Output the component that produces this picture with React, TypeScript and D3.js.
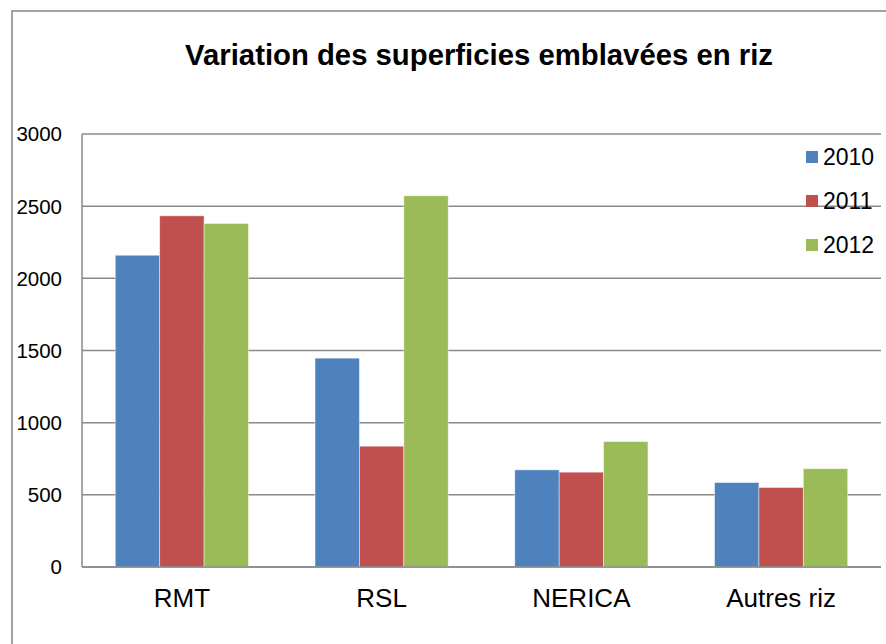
import * as d3 from "d3";

const categories = ["RMT", "RSL", "NERICA", "Autres riz"];
const seriesNames = ["2010", "2011", "2012"];
const values2010 = [2160, 1447, 673, 585];
const values2011 = [2433, 837, 657, 551];
const values2012 = [2380, 2572, 869, 681];
const yTicks = [0, 500, 1000, 1500, 2000, 2500, 3000];
const seriesColors = ["#4F81BD", "#C0504D", "#9BBB59"];

const W = 886;
const H = 644;
const FONT = "'Liberation Sans', Arial, sans-serif";

export default function App() {
  const series = [values2010, values2011, values2012];

  // plot area
  const left = 82;
  const right = 881;
  const top = 134;
  const bottom = 567;

  const x0 = d3.scaleBand<string>().domain(categories).range([left, right]).padding(0);
  const bw = x0.bandwidth();
  // Excel gap width 150% -> 3 bars + 1.5 bars gap per category
  const x1 = d3
    .scaleBand<string>()
    .domain(seriesNames)
    .range([(0.75 / 4.5) * bw, (3.75 / 4.5) * bw])
    .padding(0);
  const y = d3.scaleLinear().domain([0, 3000]).range([bottom, top]);

  const gridColor = "#8a8a8a";

  return (
    <div style={{ position: "absolute", left: 0, top: 0, width: W, height: H, background: "#fff" }}>
      <svg width={W} height={H} style={{ display: "block" }}>
        {/* outer chart border */}
        <rect x={12} y={11} width={W + 20} height={H + 20} fill="#fff" stroke="#858585" strokeWidth={1.5} />

        <text
          x={479}
          y={65}
          textAnchor="middle"
          fontFamily={FONT}
          fontWeight="bold"
          fontSize={29.3}
          fill="#000"
        >
          Variation des superficies emblavées en riz
        </text>

        {/* gridlines */}
        {yTicks.map((t) => (
          <line
            key={"g" + t}
            x1={left}
            x2={right}
            y1={y(t)}
            y2={y(t)}
            stroke={gridColor}
            strokeWidth={1.5}
          />
        ))}

        {/* y labels */}
        {yTicks.map((t) => (
          <text
            key={"yl" + t}
            x={62}
            y={y(t)}
            dy="0.36em"
            textAnchor="end"
            fontFamily={FONT}
            fontSize={20.5}
            fill="#000"
          >
            {t}
          </text>
        ))}

        {/* bars */}
        {categories.map((c, ci) => (
          <g key={c} transform={`translate(${x0(c)},0)`}>
            {seriesNames.map((s, si) => {
              const v = series[si][ci];
              return (
                <rect
                  key={s}
                  x={x1(s)}
                  y={y(v)}
                  width={x1.bandwidth()}
                  height={y(0) - y(v)}
                  fill={seriesColors[si]}
                  stroke="rgba(255,255,255,0.55)"
                  strokeWidth={0.8}
                />
              );
            })}
          </g>
        ))}

        {/* axes */}
        <line x1={left} x2={left} y1={top} y2={bottom} stroke={gridColor} strokeWidth={1.5} />
        <line x1={left} x2={right} y1={bottom} y2={bottom} stroke={gridColor} strokeWidth={1.5} />

        {/* category labels */}
        {categories.map((c) => (
          <text
            key={"cl" + c}
            x={(x0(c) ?? 0) + bw / 2}
            y={607}
            textAnchor="middle"
            fontFamily={FONT}
            fontSize={26}
            fill="#000"
          >
            {c}
          </text>
        ))}

        {/* legend */}
        {seriesNames.map((s, si) => {
          const cy = 157 + si * 44;
          return (
            <g key={"lg" + s}>
              <rect x={806} y={cy - 6} width={12} height={12} fill={seriesColors[si]} />
              <text
                x={823}
                y={cy}
                dy="0.36em"
                fontFamily={FONT}
                fontSize={23}
                fill="#000"
              >
                {s}
              </text>
            </g>
          );
        })}
      </svg>
    </div>
  );
}
